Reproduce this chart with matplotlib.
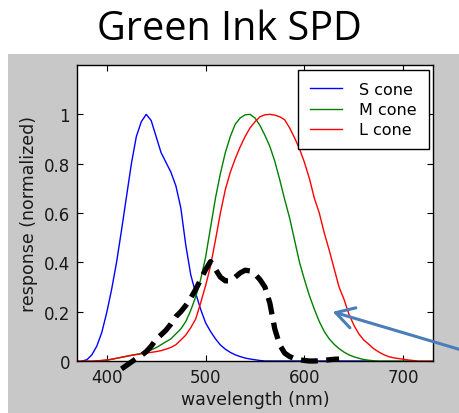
import numpy as np
import matplotlib
matplotlib.use("Agg")
import matplotlib.pyplot as plt
from matplotlib.patches import Rectangle

# cone fundamentals (normalized), 5 nm steps
wl_s = np.arange(375, 675, 5)
s_cone = [0.0, 0.005, 0.025, 0.06, 0.115, 0.195, 0.29, 0.40, 0.53, 0.665,
          0.80, 0.91, 0.97, 1.0, 0.975, 0.91, 0.845, 0.805, 0.765, 0.71,
          0.62, 0.47, 0.35, 0.275, 0.21, 0.155, 0.12, 0.09, 0.065, 0.048,
          0.035, 0.025, 0.018, 0.012, 0.008, 0.005, 0.002, 0.0, 0.0, 0.0,
          0.0, 0.0, 0.0, 0.0, 0.0, 0.0, 0.0, 0.0, 0.0, 0.0,
          0.0, 0.0, 0.0, 0.0, 0.0, 0.0, 0.0, 0.0, 0.0, 0.0]

wl_m = np.arange(390, 715, 5)
m_cone = [0.0, 0.002, 0.004, 0.007, 0.011, 0.015, 0.019, 0.023, 0.027, 0.031,
          0.037, 0.045, 0.054, 0.066, 0.078, 0.09, 0.11, 0.13, 0.16, 0.205,
          0.26, 0.33, 0.42, 0.54, 0.66, 0.76, 0.845, 0.91, 0.96, 0.985,
          0.998, 1.0, 0.985, 0.955, 0.915, 0.87, 0.81, 0.735, 0.655, 0.58,
          0.49, 0.40, 0.33, 0.265, 0.21, 0.16, 0.12, 0.09, 0.068, 0.05,
          0.036, 0.025, 0.017, 0.011, 0.006, 0.003, 0.001, 0.0, 0.0, 0.0,
          0.0, 0.0, 0.0, 0.0, 0.0]

wl_l = np.arange(370, 735, 5)
l_cone = [0.0, 0.0, 0.0, 0.0, 0.001, 0.002, 0.004, 0.007, 0.011, 0.015,
          0.019, 0.023, 0.026, 0.029, 0.032, 0.035, 0.038, 0.042, 0.048, 0.055,
          0.066, 0.085, 0.105, 0.135, 0.17, 0.235, 0.305, 0.385, 0.49, 0.60,
          0.695, 0.765, 0.82, 0.868, 0.91, 0.945, 0.97, 0.99, 0.998, 1.0,
          0.997, 0.99, 0.978, 0.945, 0.905, 0.86, 0.805, 0.74, 0.66, 0.60,
          0.52, 0.45, 0.375, 0.30, 0.25, 0.19, 0.145, 0.11, 0.085, 0.068,
          0.05, 0.037, 0.026, 0.018, 0.013, 0.01, 0.007, 0.004, 0.002, 0.0,
          0.0, 0.0, 0.0]

# spectral power of the green ink
wl_ink = np.arange(415, 640, 5)
ink_spd = [-0.032, -0.018, -0.004, 0.01, 0.022, 0.038, 0.06, 0.088, 0.106, 0.125,
           0.15, 0.18, 0.20, 0.225, 0.255, 0.29, 0.33, 0.37, 0.403, 0.372,
           0.34, 0.325, 0.325, 0.34, 0.357, 0.368, 0.365, 0.352, 0.33, 0.30,
           0.235, 0.13, 0.065, 0.032, 0.018, 0.01, 0.005, 0.002, 0.0, 0.0,
           0.001, 0.003, 0.005, 0.007, 0.008]

x_ticks = [400, 500, 600, 700]
y_ticks = [0, 0.2, 0.4, 0.6, 0.8, 1]
y_ticklabels = ["0", "0.2", "0.4", "0.6", "0.8", "1"]

fig = plt.figure(figsize=(4.6, 4.14), dpi=100)
fig.patch.set_facecolor("white")

# grey figure panel behind the axes
panel = Rectangle((8 / 460, 0), 1 - 8 / 460, (414 - 55) / 414,
                  transform=fig.transFigure, facecolor="#c8c8c8",
                  edgecolor="none", zorder=-10)
fig.add_artist(panel)

fig.text(229 / 460, 1 - 40 / 414, "Green Ink SPD", ha="center", va="baseline",
         fontsize=28.5, family="Open Sans", color="black")

ax = fig.add_axes([77 / 460, 52 / 414, 356 / 460, 296 / 414])
ax.set_facecolor("white")

ax.plot(wl_s, s_cone, color="#0000ff", lw=1.0, label="S cone")
ax.plot(wl_m, m_cone, color="#008000", lw=1.0, label="M cone")
ax.plot(wl_l, l_cone, color="#ff0000", lw=1.0, label="L cone")
ax.plot(wl_ink, ink_spd, color="black", lw=3.8, ls=(0, (3.2, 1.6)),
        clip_on=False, zorder=5)

ax.set_xlim(370, 730)
ax.set_ylim(0, 1.2)
ax.set_xticks(x_ticks)
ax.set_yticks(y_ticks)
ax.set_yticklabels(y_ticklabels)
ax.tick_params(direction="in", top=True, right=True, length=4, width=0.8,
               labelsize=12, labelcolor="#1a1a1a", pad=5)
for sp in ax.spines.values():
    sp.set_linewidth(1.0)
    sp.set_color("black")

ax.set_xlabel("wavelength (nm)", fontsize=12.5, color="#1a1a1a", labelpad=3)
ax.set_ylabel("response (normalized)", fontsize=12.5, color="#1a1a1a", labelpad=4)

leg = ax.legend(loc="upper right", bbox_to_anchor=(429 / 460, 1 - 71 / 414),
                bbox_transform=fig.transFigure, fontsize=11.5, frameon=True,
                fancybox=False, framealpha=1, edgecolor="black",
                handlelength=2.0, handletextpad=1.1, labelspacing=0.32,
                borderpad=0.75, borderaxespad=0)
leg.get_frame().set_linewidth(1.0)

# pointer onto the M cone curve
ax.annotate("", xy=(330 / 460, 1 - 312 / 414), xycoords="figure fraction",
            xytext=(485 / 460, 1 - 358 / 414), textcoords="figure fraction",
            annotation_clip=False,
            arrowprops=dict(arrowstyle="->,head_length=1.3,head_width=0.75",
                            mutation_scale=10, color="#4a7ebb", lw=2.2))

fig.savefig("out.png", dpi=100)
